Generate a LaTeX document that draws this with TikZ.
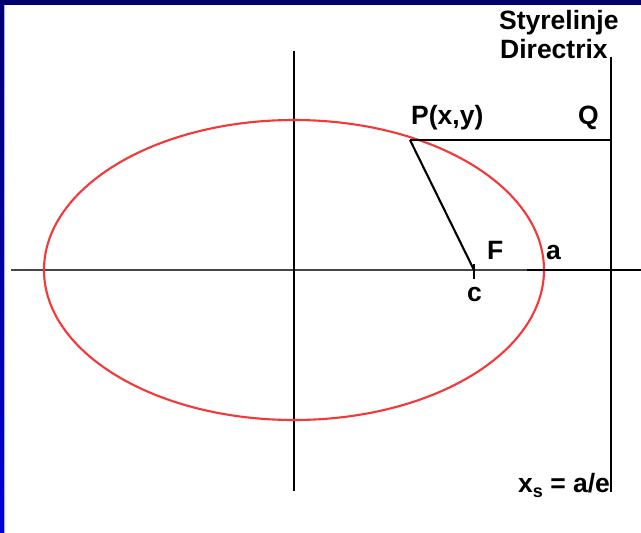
\documentclass[tikz,border=0pt]{standalone}
\usepackage{fontspec}
\setmainfont{Liberation Sans}
\definecolor{navy}{RGB}{0,0,110}
\definecolor{bandblue}{RGB}{0,0,215}
\definecolor{edgeblue}{RGB}{170,170,255}
\definecolor{ellred}{RGB}{245,55,55}
\definecolor{axisgray}{RGB}{70,70,70}
\begin{document}
\begin{tikzpicture}[x=1pt,y=-1pt,
  lbl/.style={font=\fontsize{26.5}{30}\selectfont\bfseries, inner sep=0pt, anchor=base west},
  haxis/.style={draw=axisgray, line width=2pt},
  vaxis/.style={draw=black, line width=1.7pt},
  blk/.style={draw=black, line width=2.1pt},
  curve/.style={draw=ellred, line width=2.1pt}]
\useasboundingbox (0,0) rectangle (641,533);
\fill[white] (0,0) rectangle (641,533);
\shade[top color=navy, bottom color=bandblue] (0,0) rectangle (4,533);
\fill[edgeblue] (4,5) rectangle (5,533);
\fill[navy] (0,0) rectangle (641,5);

% coordinates
\coordinate (O) at (294,270);
\coordinate (axL) at (11,270);
\coordinate (axR) at (641,270);
\coordinate (axT) at (294,51);
\coordinate (axB) at (294,491);
\coordinate (P) at (410,140);
\coordinate (Q) at (611,140);
\coordinate (dT) at (611,57);
\coordinate (dB) at (611,492);
\coordinate (F) at (474,270);
\coordinate (Ft) at (474,264);
\coordinate (Fb) at (474,279);
\coordinate (aL) at (527,270);
\coordinate (aR) at (641,270);

% axes
\draw[haxis] (axL) -- (axR);
\draw[vaxis] (axT) -- (axB);
% ellipse
\draw[curve] (O) ellipse [x radius=250pt, y radius=150pt];
% a segment
\draw[blk] (aL) -- (aR);
% directrix
\draw[blk] (dT) -- (dB);
% PQ and PF
\draw[blk] (P) -- (Q);
\draw[blk] (P) -- (F);
\draw[blk] (Ft) -- (Fb);

% labels
\node[lbl] (t1) at (499,29) {Styrelinje};
\node[lbl] (t2) at (500,58) {Directrix};
\node[lbl] (tP) at (411,124) {P(x,y)};
\node[lbl] (tQ) at (578,124) {Q};
\node[lbl] (tF) at (487,259) {F};
\node[lbl] (ta) at (546,259) {a};
\node[lbl] (tc) at (467,301) {c};
\node[lbl] (tx) at (518,492) {x\raisebox{-0.22em}{\fontsize{18}{18}\selectfont\bfseries s} = a/e};
\end{tikzpicture}
\end{document}
